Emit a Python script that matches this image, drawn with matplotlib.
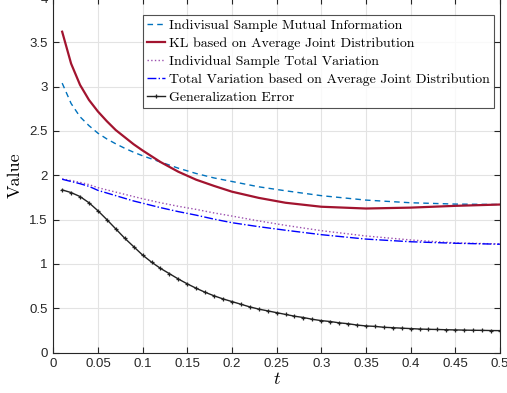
import numpy as np
import matplotlib
matplotlib.use('Agg')
import matplotlib.pyplot as plt

plt.rcParams['mathtext.fontset'] = 'cm'

# sample points for the smooth curves
t_line = [0.01, 0.02, 0.03, 0.04, 0.05, 0.06, 0.07, 0.08, 0.09, 0.10, 0.12, 0.14,
          0.16, 0.18, 0.20, 0.23, 0.26, 0.30, 0.35, 0.40, 0.45, 0.50]
mi_indiv = [3.04, 2.81, 2.66, 2.56, 2.475, 2.41, 2.355, 2.305, 2.26, 2.22, 2.15, 2.08,
            2.02, 1.97, 1.93, 1.87, 1.825, 1.77, 1.72, 1.69, 1.675, 1.67]
kl_avg = [3.62, 3.26, 3.02, 2.85, 2.72, 2.61, 2.51, 2.43, 2.35, 2.28, 2.15, 2.04,
          1.95, 1.88, 1.815, 1.745, 1.69, 1.645, 1.625, 1.635, 1.655, 1.67]
tv_indiv = [1.96, 1.94, 1.92, 1.895, 1.86, 1.835, 1.81, 1.785, 1.76, 1.735, 1.69, 1.65,
            1.615, 1.575, 1.54, 1.485, 1.435, 1.375, 1.315, 1.27, 1.237, 1.225]
tv_avg = [1.955, 1.93, 1.905, 1.875, 1.83, 1.80, 1.77, 1.74, 1.71, 1.685, 1.635, 1.59,
          1.55, 1.505, 1.465, 1.42, 1.38, 1.33, 1.28, 1.25, 1.233, 1.222]

# generalization error, one marker every 0.01
t_gen = np.round(np.arange(1, 51) * 0.01, 2)
gen_err = [1.835, 1.805, 1.76, 1.69, 1.60, 1.50, 1.395, 1.29, 1.195, 1.10,
           1.02, 0.95, 0.89, 0.83, 0.775, 0.725, 0.68, 0.64, 0.605, 0.575,
           0.545, 0.515, 0.49, 0.47, 0.45, 0.43, 0.41, 0.395, 0.375, 0.36,
           0.35, 0.335, 0.325, 0.31, 0.30, 0.295, 0.285, 0.28, 0.275, 0.27,
           0.265, 0.262, 0.26, 0.257, 0.255, 0.253, 0.251, 0.25, 0.248, 0.247]

xticks = [0, 0.05, 0.1, 0.15, 0.2, 0.25, 0.3, 0.35, 0.4, 0.45, 0.5]
xticklabels = ['0', '0.05', '0.1', '0.15', '0.2', '0.25', '0.3', '0.35', '0.4', '0.45', '0.5']
yticks = [0, 0.5, 1, 1.5, 2, 2.5, 3, 3.5, 4]
yticklabels = ['0', '0.5', '1', '1.5', '2', '2.5', '3', '3.5', '4']

fig = plt.figure(figsize=(5.07, 3.93), dpi=100)
ax = fig.add_axes([0.105, 0.103, 0.881, 0.902])

ax.plot(t_line, mi_indiv, '--', color='#0072BD', linewidth=1.0, dashes=(4, 3),
        label='Indivisual Sample Mutual Information')
ax.plot(t_line, kl_avg, '-', color='#A2142F', linewidth=1.6,
        label='KL based on Average Joint Distribution')
ax.plot(t_line, tv_indiv, ':', color='#9B4FAE', linewidth=1.0,
        label='Individual Sample Total Variation')
ax.plot(t_line, tv_avg, '-.', color='#0000FF', linewidth=1.0,
        label='Total Variation based on Average Joint Distribution')
ax.plot(t_gen, gen_err, '-', color='#222222', linewidth=1.0, marker='+',
        markersize=3.5, markeredgewidth=0.9, label='Generalization Error')

ax.set_xlim(0, 0.5)
ax.set_ylim(0, 4)
ax.set_xticks(xticks)
ax.set_xticklabels(xticklabels)
ax.set_yticks(yticks)
ax.set_yticklabels(yticklabels)
ax.grid(True, color='#e3e3e3', linewidth=0.8)
ax.set_axisbelow(True)
for sp in ax.spines.values():
    sp.set_color('#262626')
    sp.set_linewidth(0.8)
ax.tick_params(direction='in', top=True, right=True, length=4, width=0.8,
               colors='#262626', labelsize=9.5, pad=4)
for lab in ax.get_xticklabels() + ax.get_yticklabels():
    lab.set_family('Liberation Sans')

ax.set_xlabel('$t$', fontsize=13, labelpad=0)
ax.set_ylabel('Value', fontsize=13, family='cmr10', labelpad=5)

leg = ax.legend(loc='upper left', bbox_to_anchor=(143 / 507, 1 - 15 / 393),
                bbox_transform=fig.transFigure, prop={'family': 'cmr10', 'size': 10},
                frameon=True, fancybox=False, handlelength=1.3, handletextpad=0.25,
                labelspacing=0.38, borderpad=0.3, borderaxespad=0)
leg.get_frame().set_edgecolor('#262626')
leg.get_frame().set_linewidth(0.8)

fig.savefig('out.png', dpi=100)
